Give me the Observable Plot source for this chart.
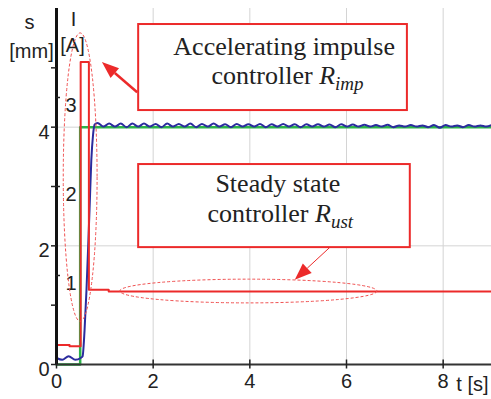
<!DOCTYPE html>
<html><head><meta charset="utf-8">
<script src="https://cdn.jsdelivr.net/npm/d3@7"></script>
<script src="https://cdn.jsdelivr.net/npm/@observablehq/plot@0.6"></script>
<style>body{margin:0;background:#fff;} #chart svg{display:block;}</style>
</head><body><div id="chart"></div>
<script>
// ---- data ----
// reference position (green), s [mm]
const greenT = [0, 0.49, 9];
const greenS = [0, 4, 4];
// actual position (blue), [t, s]
const bluePoints = [
  [0,0.11],[0.12,0.08],[0.25,0.14],[0.39,0.08],[0.50,0.11],[0.54,0.14],[0.58,0.57],[0.62,1.25],
  [0.66,2.09],[0.69,2.76],[0.72,3.44],[0.755,3.86],[0.79,4.045],
  [0.85,4.07],[0.97,4.01],[1.09,4.06],[1.21,4.01],[1.33,4.06],[1.45,4.00],[1.57,4.06],[1.69,4.01],
  [1.81,4.06],[1.93,4.01],[2.05,4.055],[2.17,4.00],[2.29,4.06],[2.41,4.01],[2.53,4.055],[2.65,4.01],
  [2.77,4.06],[2.89,4.00],[3.01,4.055],[3.13,4.01],[3.25,4.06],[3.37,4.01],[3.49,4.05],[3.61,4.00],
  [3.73,4.055],[3.85,4.01],[3.97,4.05],[4.09,4.01],[4.21,4.055],[4.33,4.00],[4.45,4.05],[4.57,4.01],
  [4.69,4.055],[4.81,4.01],[4.93,4.05],[5.05,4.00],[5.17,4.05],[5.29,4.01],[5.41,4.05],[5.53,4.01],
  [5.65,4.045],[5.77,4.00],[5.89,4.05],[6.01,4.01],[6.13,4.045],[6.25,4.01],[6.37,4.04],[6.49,4.01],
  [6.61,4.035],[6.73,4.01],[6.85,4.04],[6.97,4.00],[7.09,4.03],[7.21,4.01],[7.33,4.035],[7.45,4.01],
  [7.57,4.03],[7.69,4.00],[7.81,4.035],[7.93,3.99],[8.05,4.035],[8.17,4.01],[8.29,4.03],[8.41,4.00],
  [8.53,4.035],[8.65,4.01],[8.77,4.03],[8.89,4.01],[9.0,4.035]
];
// coil current (red), I [A]
const redT = [0, 0.27, 0.50, 0.67, 1.08, 9];
const redI = [0.22, 0.205, 3.40, 0.84, 0.82, 0.82];
const mmPerAmpere = 1.5; // right-hand I axis: 1 A spans 1.5 mm of the s axis

const xTicks = [0, 2, 4, 6, 8];
const xTickLabels = ["0", "2", "4", "6", "8"];
const sTicks = [0, 1, 2, 3, 4, 5];
const sTickLabels = ["0", "", "2", "", "4", ""];
const iTicks = [1, 2, 3];
const iTickLabels = ["1", "2", "3"];
const xGrid = [2, 4, 6, 8];
const sGrid = [2, 4];

// annotations (data units)
const boxes = [
  {x1: 1.70, x2: 7.26, y1: 4.28, y2: 5.73},
  {x1: 1.70, x2: 7.32, y1: 1.97, y2: 3.37}
];
const boxLines = [
  {t: 4.71, s: 5.21, text: "Accelerating impulse"},
  {t: 4.78, s: 4.72, text: "controller R_imp"},
  {t: 4.58, s: 2.90, text: "Steady state"},
  {t: 4.63, s: 2.40, text: "controller R_ust"}
];
const arrows = [
  {t1: 1.68, s1: 4.58, t2: 0.95, s2: 5.09, w: 2.5},
  {t1: 5.67, s1: 1.97, t2: 4.94, s2: 1.42, w: 1}
];
const ellipses = [
  {t: 0.50, s: 3.15, rt: 0.35, rs: 2.43},
  {t: 3.98, s: 1.23, rt: 2.66, rs: 0.20}
];

const green = greenT.map((t, i) => ({t, s: greenS[i]}));
const blue = bluePoints.map(([t, s]) => ({t, s}));
const red = redT.map((t, i) => ({t, i: redI[i]}));

const RED = "#ec2a2a";
const serif = "'Liberation Serif', 'Times New Roman', serif";

const chart = Plot.plot({
  width: 491, height: 399,
  marginLeft: 56, marginRight: 0, marginTop: 8, marginBottom: 35,
  x: {domain: [0, 9], axis: null},
  y: {domain: [0, 6], axis: null},
  style: {fontFamily: "'Liberation Sans', Arial, sans-serif", fontSize: "20px", color: "#222", background: "#fff", overflow: "visible"},
  marks: [
    Plot.ruleX(xGrid, {stroke: "#d4d4d4", strokeWidth: 1}),
    Plot.ruleY(sGrid, {stroke: "#d4d4d4", strokeWidth: 1}),
    Plot.line(green, {x: "t", y: "s", curve: "step-after", stroke: "#2db34a", strokeWidth: 2.5}),
    Plot.line(blue, {x: "t", y: "s", curve: "monotone-x", stroke: "#2b2c9e", strokeWidth: 2}),
    Plot.line(red, {x: "t", y: d => d.i * mmPerAmpere, curve: "step-after", stroke: RED, strokeWidth: 2}),
    Plot.ruleY([0], {stroke: "#333", strokeWidth: 2}),
    Plot.ruleX([0], {stroke: "#111", strokeWidth: 3}),
    Plot.axisX({ticks: xTicks, tickSize: 9, dy: -4.5, fill: "none", label: null, stroke: "#222", strokeWidth: 1.5}),
    Plot.axisY({ticks: sTicks, tickSize: 5, fill: "none", label: null, stroke: "#222", strokeWidth: 1.5}),
    Plot.axisY({ticks: iTicks.map(v => v * mmPerAmpere), tickSize: -4, fill: "none", label: null, stroke: "#222", strokeWidth: 1.5}),
    Plot.text(xTicks, {x: d => d, y: 0, text: (d, i) => xTickLabels[i], lineAnchor: "top", dy: 9, fill: "#222"}),
    Plot.text(sTicks, {x: 0, y: d => d, text: (d, i) => sTickLabels[i], textAnchor: "end", lineAnchor: "middle", dx: -7, dy: 5, fill: "#222"}),
    Plot.text(iTicks, {x: 0, y: d => d * mmPerAmpere, text: (d, i) => iTickLabels[i], textAnchor: "start", lineAnchor: "top", dx: 9, dy: 0, fill: "#222"}),
    Plot.text(["t [s]"], {x: 9, y: 0, textAnchor: "end", lineAnchor: "top", dx: -3, dy: 12, fill: "#222"}),
    Plot.text(["s"], {frameAnchor: "top-left", textAnchor: "middle", dx: -27, dy: 14, lineAnchor: "middle", fill: "#222"}),
    Plot.text(["[mm]"], {frameAnchor: "top-left", textAnchor: "middle", dx: -25, dy: 43, lineAnchor: "middle", fill: "#222"}),
    Plot.text(["I"], {frameAnchor: "top-left", textAnchor: "middle", dx: 17, dy: 11, lineAnchor: "middle", fill: "#222"}),
    Plot.text(["[A]"], {frameAnchor: "top-left", textAnchor: "middle", dx: 16, dy: 37, lineAnchor: "middle", fill: "#222"}),
    Plot.rect(boxes, {x1: "x1", x2: "x2", y1: "y1", y2: "y2", fill: "white", stroke: RED, strokeWidth: 2}),
    Plot.text(boxLines, {x: "t", y: "s", text: "text", lineAnchor: "bottom", fontFamily: serif, fontSize: 26, fill: "#222"})
  ]
});

document.getElementById("chart").appendChild(chart);

// subscripts in the annotation text
d3.select(chart).selectAll("text").filter(function() { return /R_/.test(this.textContent); }).each(function() {
  const m = this.textContent.match(/^(.*)R_(\w+)$/);
  const sel = d3.select(this).text(null);
  sel.append("tspan").text(m[1]);
  sel.append("tspan").attr("font-style", "italic").text("R");
  sel.append("tspan").attr("font-style", "italic").attr("font-size", "19px").attr("dy", "6").text(m[2]);
});

// dashed ellipses and filled arrows positioned with Plot's scales
const sx = chart.scale("x"), sy = chart.scale("y");
const svg = d3.select(chart);
const g = svg.append("g");
ellipses.forEach(e => {
  g.append("ellipse")
    .attr("cx", sx.apply(e.t)).attr("cy", sy.apply(e.s))
    .attr("rx", sx.apply(e.t + e.rt) - sx.apply(e.t))
    .attr("ry", sy.apply(e.s) - sy.apply(e.s + e.rs))
    .attr("fill", "none").attr("stroke", "#f05050").attr("stroke-width", 1)
    .attr("stroke-dasharray", "3,2");
});
arrows.forEach(a => {
  const x1 = sx.apply(a.t1), y1 = sy.apply(a.s1), x2 = sx.apply(a.t2), y2 = sy.apply(a.s2);
  const ang = Math.atan2(y2 - y1, x2 - x1);
  const L = 17, W = 6.5;
  const bx = x2 - L * Math.cos(ang), by = y2 - L * Math.sin(ang);
  g.append("line").attr("x1", x1).attr("y1", y1).attr("x2", bx).attr("y2", by)
    .attr("stroke", RED).attr("stroke-width", a.w);
  const px = -Math.sin(ang), py = Math.cos(ang);
  g.append("polygon")
    .attr("points", [[x2, y2], [bx + W * px, by + W * py], [bx - W * px, by - W * py]].map(p => p.join(",")).join(" "))
    .attr("fill", RED);
});
</script>
</body></html>
